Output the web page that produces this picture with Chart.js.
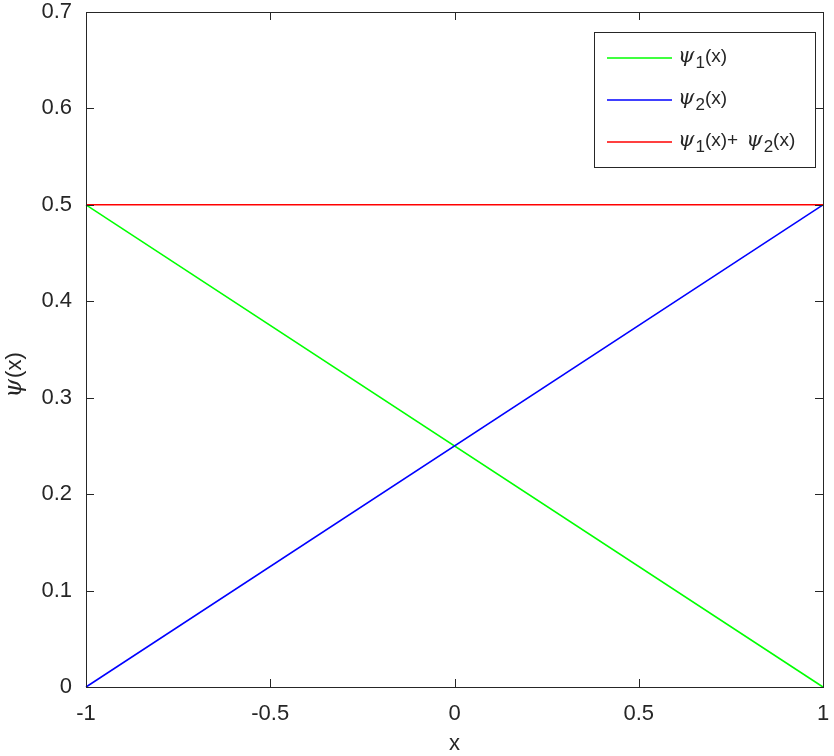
<!DOCTYPE html>
<html>
<head>
<meta charset="utf-8">
<script src="https://cdn.jsdelivr.net/npm/chart.js@4.4.1/dist/chart.umd.min.js"></script>
<style>
  html, body { margin: 0; padding: 0; background: #fff; }
  #wrap { width: 834px; height: 756px; position: relative; }
</style>
</head>
<body>
<div id="wrap"><canvas id="psiChart" width="834" height="756"></canvas></div>
<script>
// data
const xValues = [-1, 1];
const psi1 = [0.5, 0];
const psi2 = [0, 0.5];
const psiSum = [0.5, 0.5];
const xTicks = [-1, -0.5, 0, 0.5, 1];
const yTicks = [0, 0.1, 0.2, 0.3, 0.4, 0.5, 0.6, 0.7];
const seriesNames = [['1', ''], ['2', ''], ['1', '2']];   // subscripts per legend entry
const seriesColors = ['#00ff00', '#0000ff', '#ff0000'];

const SANS = '"Liberation Sans", Arial, sans-serif';
const AX = '#262626';

const toPts = ys => xValues.map((x, i) => ({ x: x, y: ys[i] }));
const fmt = v => String(+v.toFixed(2));

// draw ψ_n(x) with a subscript, returns end x
function drawPsi(ctx, x, y, sub, size) {
    ctx.font = 'italic ' + Math.round(size * 1.1) + 'px "DejaVu Serif", serif';
    ctx.fillText('\u03c8', x, y);
    x += ctx.measureText('\u03c8').width + 1;
    if (sub) {
        ctx.font = Math.round(size * 0.9) + 'px ' + SANS;
        ctx.fillText(sub, x, y + size * 0.32);
        x += ctx.measureText(sub).width;
    }
    ctx.font = size + 'px ' + SANS;
    ctx.fillText('(x)', x, y);
    return x + ctx.measureText('(x)').width;
}

const boxPlugin = {
    id: 'boxPlugin',
    afterDraw(chart) {
        const ctx = chart.ctx;
        const a = chart.chartArea;
        const xs = chart.scales.x, ys = chart.scales.y;
        ctx.save();
        ctx.strokeStyle = AX;
        ctx.lineWidth = 1;
        ctx.strokeRect(Math.round(a.left) + 0.5, Math.round(a.top) + 0.5,
            Math.round(a.right - a.left), Math.round(a.bottom - a.top));
        // inward ticks on all four sides
        const tl = 8;
        ctx.beginPath();
        xs.ticks.forEach(t => {
            const px = Math.round(xs.getPixelForValue(t.value)) + 0.5;
            ctx.moveTo(px, a.bottom); ctx.lineTo(px, a.bottom - tl);
            ctx.moveTo(px, a.top); ctx.lineTo(px, a.top + tl);
        });
        ys.ticks.forEach(t => {
            const py = Math.round(ys.getPixelForValue(t.value)) + 0.5;
            ctx.moveTo(a.left, py); ctx.lineTo(a.left + tl, py);
            ctx.moveTo(a.right, py); ctx.lineTo(a.right - tl, py);
        });
        ctx.stroke();

        // axis titles
        ctx.fillStyle = AX;
        ctx.textBaseline = 'middle';
        ctx.textAlign = 'center';
        ctx.font = '22px ' + SANS;
        ctx.fillText('x', (a.left + a.right) / 2, 744);
        ctx.save();
        ctx.translate(15, 375);
        ctx.rotate(-Math.PI / 2);
        ctx.textAlign = 'left';
        ctx.font = 'italic 24px "DejaVu Serif", serif';
        const w1 = ctx.measureText('\u03c8').width;
        ctx.font = '22px ' + SANS;
        const w2 = ctx.measureText('(x)').width;
        drawPsi(ctx, -(w1 + w2 + 1) / 2, 0, '', 22);
        ctx.restore();

        // legend box
        const lx = 594, ly = 32, lw = 221, lh = 135;
        ctx.fillStyle = '#fff';
        ctx.fillRect(lx, ly, lw, lh);
        ctx.strokeStyle = AX;
        ctx.strokeRect(lx + 0.5, ly + 0.5, lw, lh);
        const rows = [58, 100, 142];
        chart.data.datasets.forEach((ds, i) => {
            const yy = rows[i];
            ctx.strokeStyle = ds.borderColor;
            ctx.lineWidth = 1.5;
            ctx.beginPath();
            ctx.moveTo(607, yy); ctx.lineTo(672, yy);
            ctx.stroke();
            ctx.fillStyle = AX;
            ctx.textAlign = 'left';
            ctx.textBaseline = 'middle';
            const subs = seriesNames[i];
            let ex = drawPsi(ctx, 678, yy - 1, subs[0], 19);
            if (subs[1]) {
                ctx.font = '19px ' + SANS;
                ctx.fillText('+', ex, yy - 1);
                ex += ctx.measureText('+').width + 8;
                drawPsi(ctx, ex, yy - 1, subs[1], 19);
            }
        });
        ctx.restore();
    }
};

new Chart(document.getElementById('psiChart').getContext('2d'), {
    type: 'scatter',
    data: {
        datasets: [
            { label: '\u03c81(x)', data: toPts(psi1), borderColor: seriesColors[0], order: 3 },
            { label: '\u03c82(x)', data: toPts(psi2), borderColor: seriesColors[1], order: 2 },
            { label: '\u03c81(x)+ \u03c82(x)', data: toPts(psiSum), borderColor: seriesColors[2], order: 1 }
        ].map(d => Object.assign(d, {
            showLine: true, borderWidth: 1.5, pointRadius: 0, fill: false, clip: false
        }))
    },
    options: {
        responsive: false,
        animation: false,
        devicePixelRatio: 1,
        layout: { padding: { top: 12, right: 11, left: 0, bottom: 0 } },
        plugins: { legend: { display: false }, tooltip: { enabled: false } },
        scales: {
            x: {
                type: 'linear', min: -1, max: 1,
                afterBuildTicks: s => { s.ticks = xTicks.map(v => ({ value: v })); },
                afterFit: s => { s.height = 69; s.paddingLeft = 0; s.paddingRight = 0; },
                grid: { display: false, drawTicks: false },
                border: { display: false },
                ticks: { color: AX, font: { family: SANS, size: 22 }, padding: 14, maxRotation: 0, callback: fmt }
            },
            y: {
                type: 'linear', min: 0, max: 0.7,
                afterBuildTicks: s => { s.ticks = yTicks.map(v => ({ value: v })); },
                afterFit: s => { s.width = 86; s.paddingTop = 0; s.paddingBottom = 0; },
                grid: { display: false, drawTicks: false },
                border: { display: false },
                ticks: { color: AX, font: { family: SANS, size: 22 }, padding: 14, callback: fmt }
            }
        }
    },
    plugins: [boxPlugin]
});
</script>
</body>
</html>
